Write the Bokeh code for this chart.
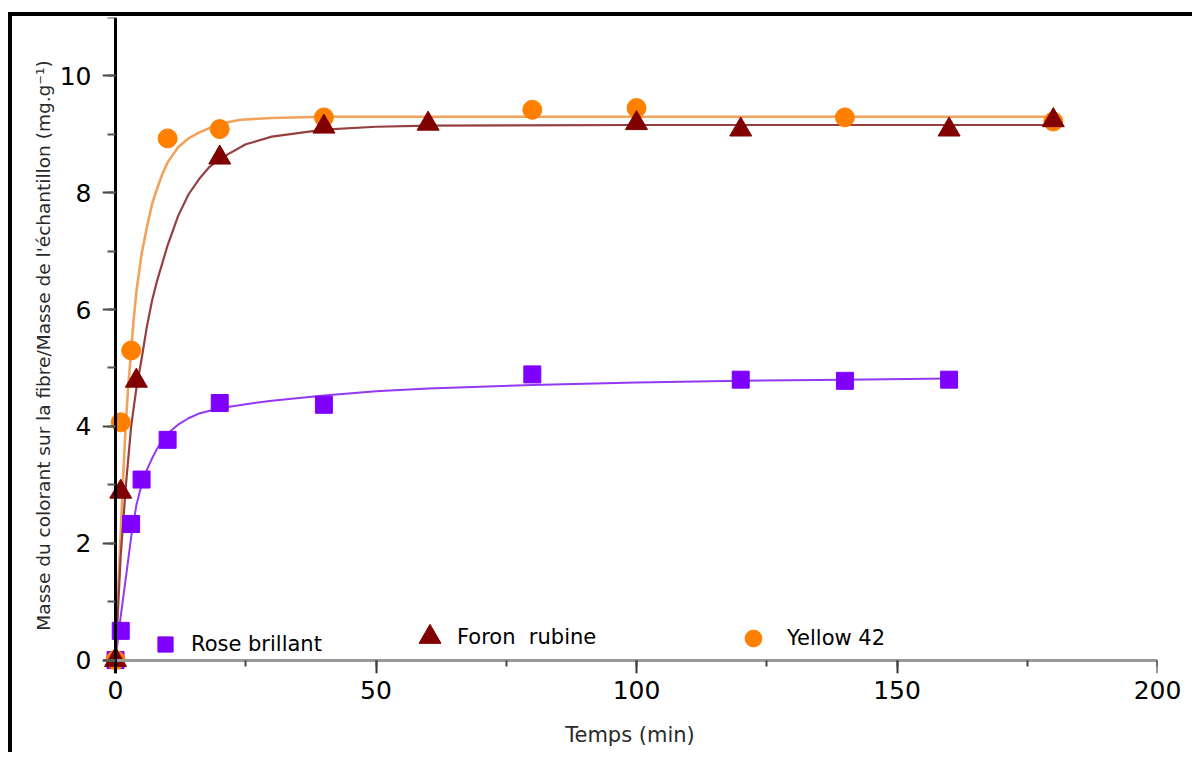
from bokeh.plotting import figure
from bokeh.models import (Range1d, SingleIntervalTicker, Legend, LegendItem, LinearAxis,
                          CustomJSTickFormatter)
from bokeh.embed import file_html
from bokeh.resources import INLINE

# ---- measured points ----
rose_t = [0, 1, 3, 5, 10, 20, 40, 80, 120, 140, 160]
rose_q = [0, 0.5, 2.33, 3.09, 3.77, 4.40, 4.37, 4.89, 4.80, 4.78, 4.80]

foron_t = [0, 1, 4, 20, 40, 60, 100, 120, 160, 180]
foron_q = [0, 2.88, 4.78, 8.60, 9.13, 9.18, 9.19, 9.08, 9.08, 9.24]

yellow_t = [0, 1, 3, 10, 20, 40, 80, 100, 140, 180]
yellow_q = [0, 4.07, 5.30, 8.93, 9.09, 9.29, 9.42, 9.45, 9.29, 9.22]

# ---- fitted curves ----
rose_fit_t = [0, 1, 2, 3, 4, 5, 6, 7, 8, 10, 12, 14, 16, 20, 25, 30, 40, 50, 60, 80, 100, 120, 140, 160]
rose_fit_q = [0, 0.75, 1.42, 2.10, 2.65, 3.00, 3.25, 3.45, 3.62, 3.88, 4.03, 4.14, 4.22, 4.31, 4.38,
              4.44, 4.53, 4.60, 4.65, 4.71, 4.75, 4.78, 4.80, 4.82]

foron_fit_t = [0, 0.5, 1, 2, 3, 4, 5, 6, 7, 8, 10, 12, 14, 16, 18, 20, 25, 30, 40, 50, 60, 100, 140, 180]
foron_fit_q = [0, 0.9, 1.8, 3.0, 4.0, 4.65, 5.15, 5.7, 6.15, 6.5, 7.1, 7.6, 7.97, 8.23, 8.44, 8.58,
               8.83, 8.96, 9.08, 9.13, 9.15, 9.16, 9.16, 9.16]

yellow_fit_t = [0, 0.5, 1, 1.5, 2, 2.5, 3, 3.5, 4, 5, 6, 7, 8, 9, 10, 12, 14, 16, 20, 24, 30, 40, 60, 100, 140, 180]
yellow_fit_q = [0, 1.2, 2.2, 3.2, 4.1, 4.75, 5.3, 5.85, 6.3, 6.95, 7.4, 7.8, 8.08, 8.32, 8.52, 8.78,
                8.93, 9.03, 9.18, 9.25, 9.28, 9.30, 9.30, 9.30, 9.30, 9.30]

series_names = ["Rose brillant", "Foron  rubine", "Yellow 42"]
x_title = "Temps (min)"
y_title = "Masse du colorant sur la fibre/Masse de l'échantillon (mg.g⁻¹)"

FONT = "DejaVu Sans"

p = figure(width=1184, height=740, output_backend="svg", toolbar_location=None,
           x_range=Range1d(-2.5, 200), y_range=Range1d(-0.23, 11),
           min_border_left=90, min_border_right=39, min_border_top=1, min_border_bottom=83,
           background_fill_color="white", border_fill_color="white")
p.styles = {"margin-left": "8px", "margin-top": "12px",
            "border-left": "4px solid black", "border-top": "4px solid black"}
p.outline_line_color = None
p.grid.visible = False

xticker = SingleIntervalTicker(interval=50, num_minor_ticks=2)
yticker = SingleIntervalTicker(interval=2, num_minor_ticks=2)

# label-only axes at the frame edges
xa = p.below[0]
ya = p.left[0]
xa.ticker = xticker
ya.ticker = yticker
for ax in (xa, ya):
    ax.axis_line_color = None
    ax.major_tick_line_color = None
    ax.minor_tick_line_color = None
    ax.major_tick_out = 0
    ax.major_tick_in = 0
    ax.minor_tick_out = 0
    ax.minor_tick_in = 0
    ax.major_label_text_font = FONT
    ax.major_label_text_font_size = "25px"
    ax.major_label_text_color = "black"
    ax.axis_label_text_font = FONT
    ax.axis_label_text_font_style = "normal"
    ax.axis_label_text_color = "#2a2a2a"
xa.major_label_standoff = 7
xa.axis_label = x_title
xa.axis_label_text_font_size = "21px"
xa.axis_label_standoff = 21
ya.major_label_standoff = 11
ya.axis_label = y_title
ya.axis_label_text_font_size = "18.5px"
ya.axis_label_standoff = 3

# axis lines and ticks placed at x=0 / y=0
blank = CustomJSTickFormatter(code="return ''")
yline = LinearAxis(fixed_location=0, ticker=yticker, formatter=blank,
                   axis_line_color="black", axis_line_width=3,
                   major_tick_line_color="#444444", major_tick_line_width=2,
                   major_tick_in=13, major_tick_out=0,
                   minor_tick_line_color="#555555", minor_tick_line_width=2,
                   minor_tick_in=8, minor_tick_out=0,
                   major_label_standoff=0, major_label_text_font_size="1px")
xline = LinearAxis(fixed_location=0, ticker=xticker, formatter=blank,
                   axis_line_color="#9a9a9a", axis_line_width=3,
                   major_tick_line_color="#333333", major_tick_line_width=2,
                   major_tick_in=13, major_tick_out=0,
                   minor_tick_line_color="#444444", minor_tick_line_width=2,
                   minor_tick_in=6, minor_tick_out=0,
                   major_label_standoff=0, major_label_text_font_size="1px")
p.add_layout(yline, "right")
p.add_layout(xline, "above")

# fitted curves
p.line(rose_fit_t, rose_fit_q, line_color="#9438F5", line_width=2)
p.line(yellow_fit_t, yellow_fit_q, line_color="#EFA35C", line_width=2.6)
p.line(foron_fit_t, foron_fit_q, line_color="#973F3F", line_width=2.2)

# markers
r_rose = p.scatter(rose_t, rose_q, marker="square", size=17,
                   fill_color="#8000FF", line_color="#8000FF")
r_yellow = p.scatter(yellow_t, yellow_q, marker="circle", size=19,
                     fill_color="#FF8000", line_color="#FF8000")
r_foron = p.scatter(foron_t, foron_q, marker="triangle", size=22,
                    fill_color="#800000", line_color="#800000")

# legends placed individually (location = bottom-left in frame px)
legend_specs = [
    (r_rose, series_names[0], (44, 10), 38, 7),
    (r_foron, series_names[1], (300, 9), 55, -10),
    (r_yellow, series_names[2], (630, 14), 42, 13),
]
for rend, name, loc, gdim, standoff in legend_specs:
    lg = Legend(items=[LegendItem(label=name, renderers=[rend])], location=loc,
                padding=0, margin=0, spacing=0, border_line_color=None,
                background_fill_alpha=0, glyph_width=gdim, glyph_height=gdim,
                label_standoff=standoff, label_text_font=FONT,
                label_text_font_size="21px", label_text_color="black")
    p.add_layout(lg, "center")

open("out.html", "w").write(file_html(p, INLINE))
